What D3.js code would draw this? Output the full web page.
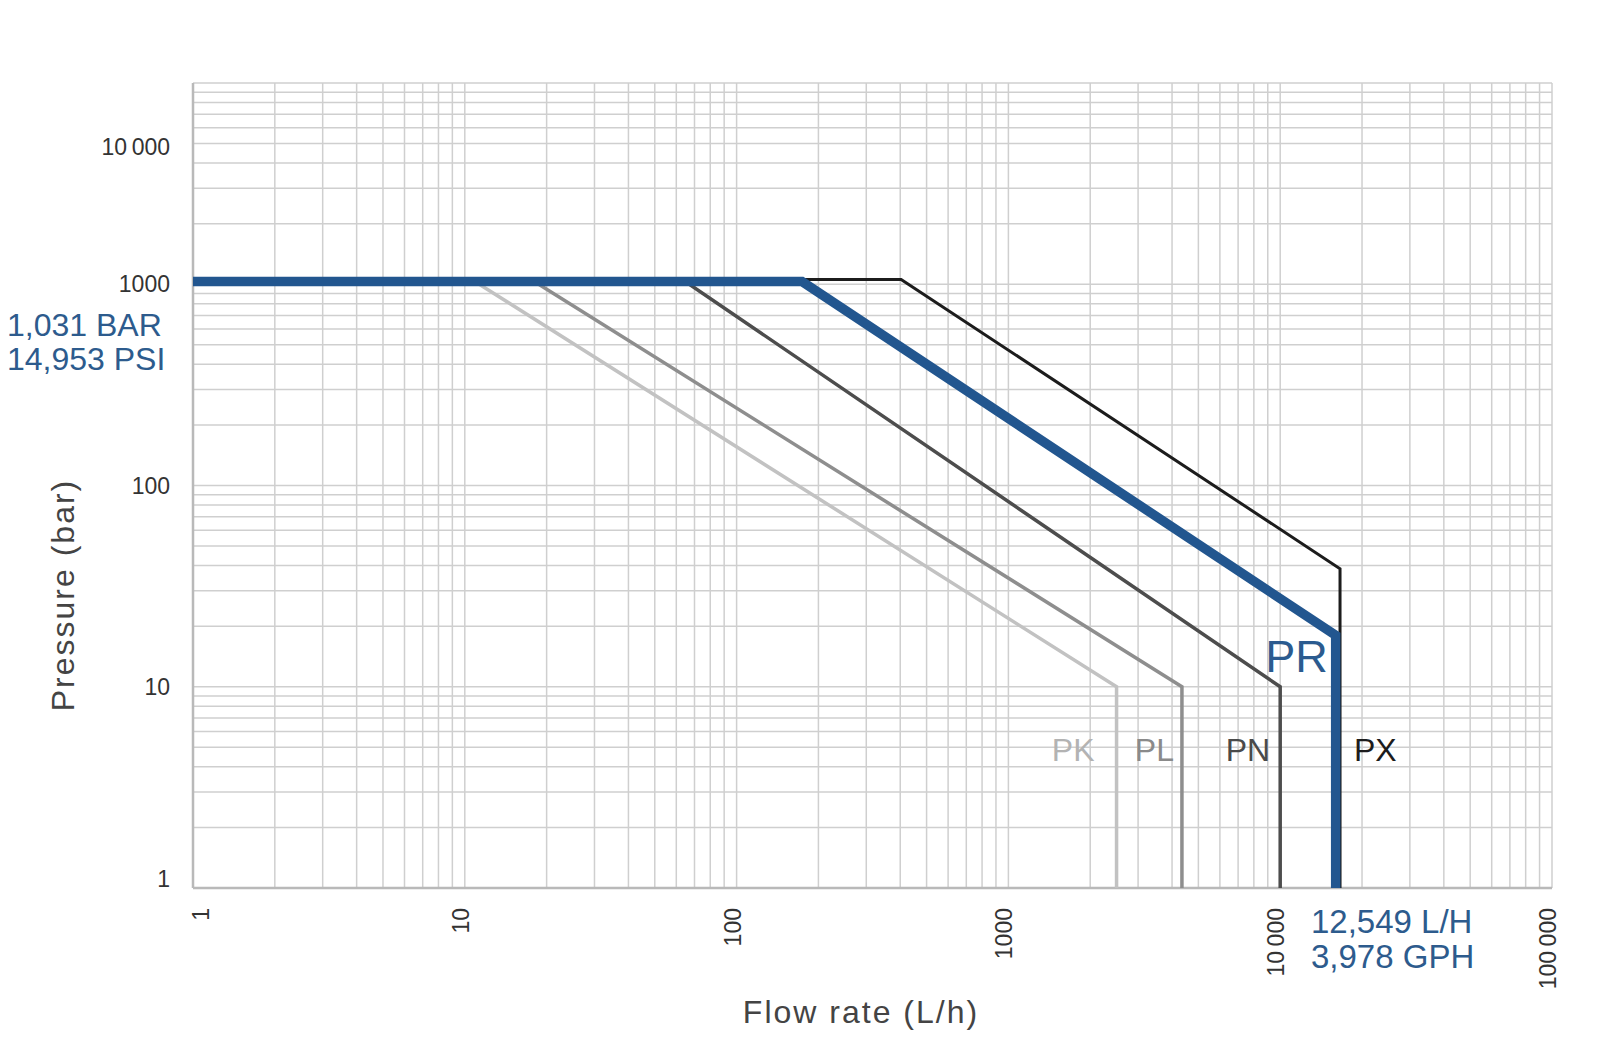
<!DOCTYPE html>
<html>
<head>
<meta charset="utf-8">
<script src="https://cdn.jsdelivr.net/npm/d3@7/dist/d3.min.js"></script>
<style>
  body { margin: 0; background: #fff; }
  svg { display: block; font-family: 'Liberation Sans', Arial, sans-serif; }
</style>
</head>
<body>
<svg id="chart" width="1600" height="1055"></svg>
<script>
// pump families: breakpoints of each pressure/flow envelope
const seriesNames = ['PK', 'PL', 'PN', 'PX', 'PR'];
const seriesFlow = [
  [1, 11.3, 2500, 2500],
  [1, 18.7, 4350, 4350],
  [1, 67, 10000, 10000],
  [1, 403, 16600, 16600],
  [1, 174, 16000, 16000]
];
const seriesPressure = [
  [1000, 1000, 10, 1],
  [1000, 1000, 10, 1],
  [1000, 1000, 10, 1],
  [1057, 1057, 38.6, 1],
  [1031, 1031, 18, 1]
];
const xTickValues = [1, 10, 100, 1000, 10000, 100000];
const xTickLabels = ['1', '10', '100', '1000', '10\u2009000', '100\u2009000'];
const yTickValues = [1, 10, 100, 1000, 10000];
const yTickLabels = ['1', '10', '100', '1000', '10\u2009000'];
const pressureNote = ['1,031 BAR', '14,953 PSI'];
const flowNote = ['12,549 L/H', '3,978 GPH'];

const styles = {
  PK: { stroke: '#c2c2c2', width: 3.5, text: '#b3b3b3', anchor: 'end', dx: -22 },
  PL: { stroke: '#8e8e8e', width: 3.5, text: '#8a8a8a', anchor: 'end', dx: -8 },
  PN: { stroke: '#4d4d4d', width: 3.5, text: '#4a4a4a', anchor: 'end', dx: -10 },
  PX: { stroke: '#1c1c1c', width: 3, text: '#1c1c1c', anchor: 'start', dx: 14 },
  PR: { stroke: '#22568f', width: 9.5, text: '#2b5b8f', anchor: 'end', dx: -8 }
};
const blue = '#2d5b8d';

const svg = d3.select('#chart');

const x = d3.scaleLog().domain([1, 100000]).range([193, 1552]);
const y = d3.scaleLog().domain([1, 10000]).range([888, 83]);

// minor + major log grid values
const gridX = [];
for (let d = 1; d < 100000; d *= 10) {
  for (let m = 1; m < 10; m++) { gridX.push(d * m); }
}
gridX.push(100000);
const gridY = [];
for (let d = 1; d < 10000; d *= 10) {
  for (let m = 1; m < 10; m++) { gridY.push(d * m); }
}
gridY.push(10000);

const grid = svg.append('g');
grid.selectAll('line.gx')
  .data(gridX)
  .enter().append('line')
  .attr('x1', v => x(v)).attr('x2', v => x(v))
  .attr('y1', y(10000)).attr('y2', y(1))
  .attr('stroke', '#cfcfcf')
  .attr('stroke-width', 1.5);
grid.selectAll('line.gy')
  .data(gridY)
  .enter().append('line')
  .attr('x1', x(1)).attr('x2', x(100000))
  .attr('y1', v => y(v)).attr('y2', v => y(v))
  .attr('stroke', '#cfcfcf')
  .attr('stroke-width', 1.5);

// left and bottom frame a touch darker
grid.append('line')
  .attr('x1', x(1)).attr('x2', x(1))
  .attr('y1', y(10000)).attr('y2', y(1))
  .attr('stroke', '#b9b9b9').attr('stroke-width', 2.5);
grid.append('line')
  .attr('x1', x(1)).attr('x2', x(100000))
  .attr('y1', y(1)).attr('y2', y(1))
  .attr('stroke', '#b9b9b9').attr('stroke-width', 2.5);

// envelopes
const line = d3.line()
  .x(d => x(d[0]))
  .y(d => y(d[1]));

seriesNames.forEach((name, i) => {
  const pts = seriesFlow[i].map((f, j) => [f, seriesPressure[i][j]]);
  const st = styles[name];
  svg.append('path')
    .attr('d', line(pts))
    .attr('fill', 'none')
    .attr('stroke', st.stroke)
    .attr('stroke-width', st.width)
    .attr('stroke-linejoin', 'miter');
});

// series labels
seriesNames.forEach((name, i) => {
  const st = styles[name];
  const xMax = seriesFlow[i][seriesFlow[i].length - 1];
  const isMain = name === 'PR';
  svg.append('text')
    .attr('x', x(xMax) + st.dx)
    .attr('y', isMain ? y(seriesPressure[i][2]) + 37 : y(10) + 74)
    .attr('text-anchor', st.anchor)
    .attr('font-size', isMain ? 45 : 32)
    .attr('fill', st.text)
    .text(name);
});

// y tick labels (top one sits well below the frame in the original)
svg.append('g')
  .selectAll('text')
  .data(yTickValues)
  .enter().append('text')
  .attr('x', 170)
  .attr('y', v => v === 10000 ? y(v) + 64 : v === 1 ? y(v) - 9 : y(v))
  .attr('dy', '0.35em')
  .attr('text-anchor', 'end')
  .attr('font-size', 23)
  .attr('fill', '#333')
  .text((v, i) => yTickLabels[i]);

// x tick labels, rotated
svg.append('g')
  .selectAll('text')
  .data(xTickValues)
  .enter().append('text')
  .attr('transform', v => `translate(${x(v) + (v === 1 ? 8 : -4)},908) rotate(-90)`)
  .attr('dy', '0.35em')
  .attr('text-anchor', 'end')
  .attr('font-size', 23)
  .attr('fill', '#333')
  .text((v, i) => xTickLabels[i]);

// axis titles
svg.append('text')
  .attr('transform', 'translate(63,595) rotate(-90)')
  .attr('dy', '0.35em')
  .attr('text-anchor', 'middle')
  .attr('font-size', 32)
  .attr('letter-spacing', 2)
  .attr('fill', '#444')
  .text('Pressure (bar)');
svg.append('text')
  .attr('x', 861)
  .attr('y', 1012)
  .attr('dy', '0.35em')
  .attr('text-anchor', 'middle')
  .attr('font-size', 32)
  .attr('letter-spacing', 2)
  .attr('fill', '#444')
  .text('Flow rate (L/h)');

// blue callouts for the PR maximums
svg.append('g')
  .selectAll('text')
  .data(pressureNote)
  .enter().append('text')
  .attr('x', 7)
  .attr('y', (d, i) => 336 + i * 34)
  .attr('font-size', 32)
  .attr('fill', blue)
  .text(d => d);
svg.append('g')
  .selectAll('text')
  .data(flowNote)
  .enter().append('text')
  .attr('x', 1311)
  .attr('y', (d, i) => 933 + i * 35)
  .attr('font-size', 33)
  .attr('fill', blue)
  .text(d => d);
</script>
</body>
</html>
